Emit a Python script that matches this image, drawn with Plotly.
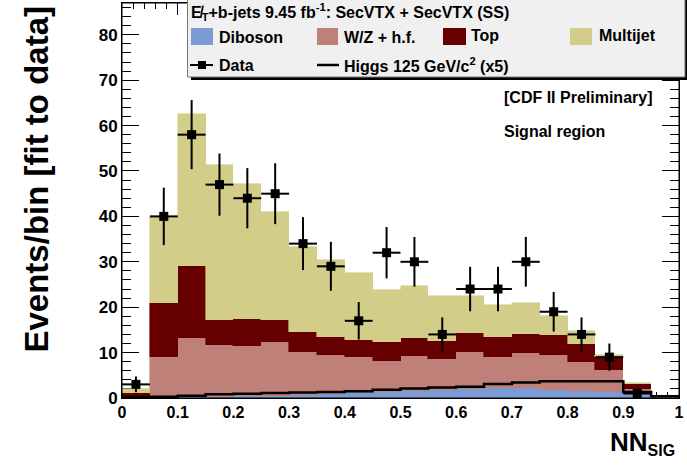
import math
import plotly.graph_objects as go

# ---------------- data ----------------
bin_edges = [round(i * 0.05, 2) for i in range(21)]
bin_centers = [round(0.025 + i * 0.05, 3) for i in range(20)]

diboson = [0.0, 0.1, 0.2, 0.3, 0.4, 0.5, 0.7, 0.9, 1.1, 1.3, 1.5, 1.7, 1.9, 2.1, 2.1, 1.8, 1.5, 1.25, 0.9, 0.3]
wz_hf = [0.3, 9.0, 13.1, 11.4, 11.1, 11.8, 9.5, 8.6, 7.9, 6.9, 7.8, 7.0, 8.3, 7.0, 7.9, 7.7, 6.5, 4.95, 1.1, 0.0]
top = [0.9, 11.9, 15.8, 5.5, 5.8, 4.9, 4.4, 4.0, 3.8, 4.1, 4.0, 3.9, 4.2, 4.3, 4.2, 4.4, 3.9, 2.9, 1.1, 0.0]
multijet = [0.7, 18.9, 33.4, 34.1, 29.8, 23.8, 18.7, 17.0, 14.8, 11.5, 11.4, 9.9, 8.1, 7.1, 6.8, 4.2, 2.9, 0.4, 0.3, 0.0]
higgs_x5 = [0.2, 0.3, 0.5, 0.8, 0.95, 1.1, 1.2, 1.3, 1.5, 1.8, 2.1, 2.3, 2.5, 3.1, 3.4, 3.7, 3.7, 3.7, 1.3, 0.4]
data = [3, 40, 58, 47, 44, 45, 34, 29, 17, 32, 30, 14, 24, 24, 30, 19, 14, 9, 1, 0]

x_ticks = [0, 0.1, 0.2, 0.3, 0.4, 0.5, 0.6, 0.7, 0.8, 0.9, 1]
y_ticks = [0, 10, 20, 30, 40, 50, 60, 70, 80]

C_DIB = "#7a9bd3"
C_WZ = "#c0807a"
C_TOP = "#660000"
C_MJ = "#d3cd8a"

FONT = "Liberation Sans"

fig = go.Figure()

for name, vals, col in [("Diboson", diboson, C_DIB), ("W/Z + h.f.", wz_hf, C_WZ),
                        ("Top", top, C_TOP), ("Multijet", multijet, C_MJ)]:
    fig.add_trace(go.Bar(x=bin_centers, y=vals, width=0.05, name=name,
                         marker=dict(color=col, line=dict(color=col, width=0.6)),
                         showlegend=False))

# Higgs step line
fig.add_trace(go.Scatter(x=bin_edges, y=higgs_x5 + [higgs_x5[-1]], mode="lines",
                         line=dict(color="black", width=2.5, shape="hv"),
                         showlegend=False))

# data points (zero bins not drawn)
dx, dy, de = [], [], []
for c, n in zip(bin_centers, data):
    if n > 0:
        dx.append(c); dy.append(n); de.append(math.sqrt(n))
fig.add_trace(go.Scatter(x=dx, y=dy, mode="markers",
                         marker=dict(symbol="square", size=9, color="black"),
                         error_y=dict(type="data", array=de, thickness=2, width=0, color="black"),
                         error_x=dict(type="constant", value=0.025, thickness=2, width=0, color="black"),
                         showlegend=False))

# ---------------- layout ----------------
L, R, T, B = 122, 679, 3, 398
W, H = 687, 466


def px(x):
    return (x - L) / (R - L)


def py(y):
    return (B - y) / (B - T)


shapes = []
annotations = []

# frame
shapes.append(dict(type="rect", xref="paper", yref="paper", x0=0, x1=1, y0=0, y1=1,
                   line=dict(color="black", width=1), layer="above"))

# legend shadow + box
shapes.append(dict(type="rect", xref="paper", yref="paper", x0=px(191), x1=px(692), y0=py(80), y1=py(-5),
                   fillcolor="black", line=dict(width=0), layer="above"))
shapes.append(dict(type="rect", xref="paper", yref="paper", x0=px(187.5), x1=px(685), y0=py(77), y1=py(-5),
                   fillcolor="#f0f0f0", line=dict(color="#777777", width=1), layer="above"))

# legend swatches
for (x0, x1, col) in [(191, 213, C_DIB), (317, 338, C_WZ), (443, 466, C_TOP), (570, 592, C_MJ)]:
    shapes.append(dict(type="rect", xref="paper", yref="paper", x0=px(x0), x1=px(x1), y0=py(45), y1=py(28),
                       fillcolor=col, line=dict(width=0), layer="above"))
# data legend marker
shapes.append(dict(type="line", xref="paper", yref="paper", x0=px(190), x1=px(213), y0=py(65), y1=py(65),
                   line=dict(color="black", width=2), layer="above"))
shapes.append(dict(type="rect", xref="paper", yref="paper", x0=px(198), x1=px(206), y0=py(69), y1=py(61),
                   fillcolor="black", line=dict(width=0), layer="above"))
# higgs legend line
shapes.append(dict(type="line", xref="paper", yref="paper", x0=px(317), x1=px(339), y0=py(65), y1=py(65),
                   line=dict(color="black", width=2.5), layer="above"))


def txt(x, y, s, size=16, anchor="left"):
    annotations.append(dict(x=px(x), y=py(y), xref="paper", yref="paper", text=s, showarrow=False,
                            xanchor=anchor, yanchor="middle",
                            font=dict(family=FONT, size=size, color="black", weight="bold")))


txt(189, 12, "E\u0338<sub>T</sub>+b-jets 9.45 fb<sup>-1</sup>: SecVTX + SecVTX (SS)", 16)
txt(217, 37, "Diboson")
txt(342, 37, "W/Z + h.f.")
txt(469, 35, "Top")
txt(597, 35, "Multijet")
txt(217, 66, "Data")
txt(342, 65, "Higgs 125 GeV/c<sup>2</sup> (x5)")

txt(502, 98, "[CDF II Preliminary]", 16)
txt(502, 131, "Signal region", 16)

# axis titles
annotations.append(dict(x=px(36), y=py(4), xref="paper", yref="paper",
                        text="Events/bin [fit to data]", showarrow=False, textangle=-90,
                        xanchor="center", yanchor="top",
                        font=dict(family=FONT, size=33, color="black", weight="bold")))
annotations.append(dict(x=px(677), y=py(443), xref="paper", yref="paper",
                        text="NN<sub><span style='font-size:16px'>SIG</span></sub>", showarrow=False,
                        xanchor="right", yanchor="middle",
                        font=dict(family=FONT, size=26, color="black", weight="bold")))

fig.update_layout(
    width=W, height=H,
    margin=dict(l=L, r=W - R, t=T, b=H - B, pad=0),
    paper_bgcolor="white", plot_bgcolor="white",
    barmode="stack", bargap=0, showlegend=False,
    shapes=shapes, annotations=annotations,
    xaxis=dict(range=[0, 1], tickvals=x_ticks, ticktext=[f"{v:g}" for v in x_ticks],
               ticks="inside", ticklen=12, tickwidth=1, tickcolor="black",
               minor=dict(ticks="inside", ticklen=6, dtick=0.02, tickcolor="black", showgrid=False),
               showgrid=False, zeroline=False, showline=True, linecolor="black", mirror="ticks",
               layer="below traces",
               tickfont=dict(family=FONT, size=16, color="black", weight="bold")),
    yaxis=dict(range=[0, 87], tickvals=y_ticks,
               ticks="inside", ticklen=17, tickwidth=1, tickcolor="black",
               minor=dict(ticks="inside", ticklen=9, dtick=2, tickcolor="black", showgrid=False),
               showgrid=False, zeroline=False, showline=True, linecolor="black", mirror="ticks",
               layer="below traces",
               tickfont=dict(family=FONT, size=17, color="black", weight="bold")),
)

fig.write_html("out.html")
